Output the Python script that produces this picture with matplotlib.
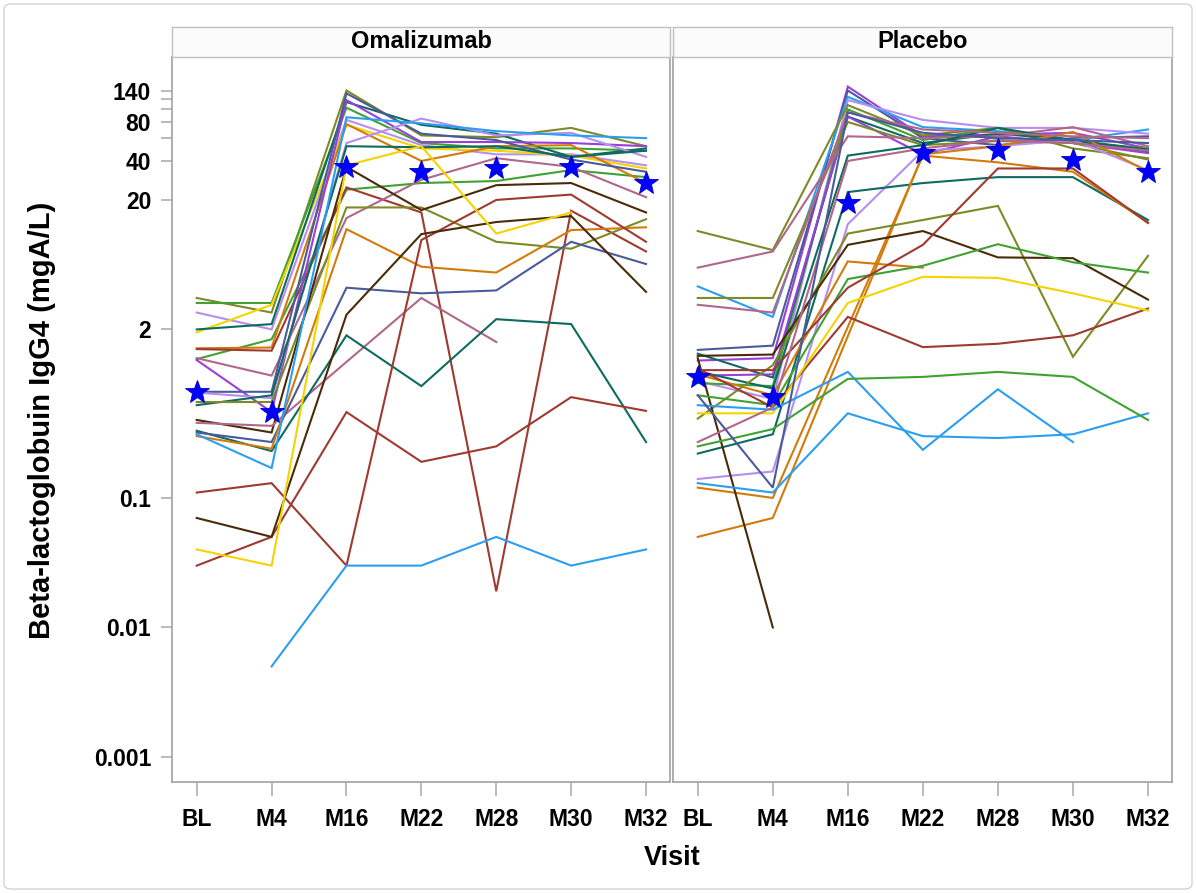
import matplotlib
matplotlib.use("Agg")
import matplotlib.pyplot as plt
from matplotlib.patches import FancyBboxPatch
import numpy as np

plt.rcParams['font.family'] = ['Liberation Sans', 'DejaVu Sans']
plt.rcParams['font.weight'] = 'bold'

visits = ["BL", "M4", "M16", "M22", "M28", "M30", "M32"]
panels = ["Omalizumab", "Placebo"]
y_label = "Beta-lactoglobuin IgG4 (mgA/L)"
x_label = "Visit"
y_ticks = [0.001, 0.01, 0.1, 2, 20, 40, 60, 80, 100, 120, 140]
y_tick_labels = ["0.001", "0.01", "0.1", "2", "20", "40", "", "80", "", "", "140"]

OLIVE = '#7d8a26'; GREEN = '#3fa232'; TEAL = '#0d6b5f'; LAV = '#b78ef0'
PURPLE = '#9a3fd9'; YELLOW = '#f3d300'; ORANGE = '#d27b0b'; BRICK = '#9e3a2f'
MAUVE = '#b1678b'; NAVY = '#4a5b99'; SKY = '#2b9ef0'; DKBROWN = '#4a2b08'

N = None
# Omalizumab subjects: values at BL, M4, M16, M22, M28, M30, M32
oma_colors = [OLIVE, GREEN, LAV, YELLOW, TEAL, GREEN, ORANGE, BRICK, MAUVE, PURPLE,
              NAVY, LAV, TEAL, OLIVE, DKBROWN, MAUVE, TEAL, NAVY, ORANGE, SKY,
              BRICK, BRICK, DKBROWN, YELLOW, SKY]
oma_values = [
    [3.5, 2.7, 140, 63, 61, 72, 52],
    [3.2, 3.2, 103, 55, 50, 50, 48],
    [2.7, 2.0, 83, 53, 45, 45, 37],
    [1.9, 3.1, 76, 50, 48, 44, 35],
    [2.0, 2.2, 114, 76, 65, 43, 50],
    [1.18, 1.68, 24, 27, 28, 34, 30],
    [1.43, 1.45, 77, 40, 52, 53, 27],
    [1.41, 1.37, 25, 16, 0.019, 16.5, 8.0],
    [1.2, 0.88, 14.5, 28.6, 42, 36, 21],
    [1.16, 0.46, 118, 56, 56, 55, 52],
    [0.66, 0.66, 133, 65, 58, 41, 33],
    [0.65, 0.59, 55, 85, 63, 66, 43],
    [0.52, 0.62, 52, 51, 52, 43, 48],
    [0.55, 0.55, 17.5, 17.5, 9.5, 8.4, 14.2],
    [0.40, 0.32, 36, 16.7, 26, 27, 16],
    [0.38, 0.36, N, 3.5, 1.6, N, N],
    [0.33, 0.23, 1.8, 0.73, 2.4, 2.2, 0.27],
    [0.32, 0.27, 4.2, 3.8, 4.0, 9.5, 6.4],
    [0.30, 0.24, 11.9, 6.1, 5.5, 11.7, 12.3],
    [0.31, 0.17, 87, 78, 68, 63, 60],
    [0.11, 0.13, 0.03, 9.8, 20, 22, 9.5],
    [0.03, 0.05, 0.46, 0.19, 0.25, 0.6, 0.47],
    [0.07, 0.05, 2.6, 10.9, 13.5, 15, 3.9],
    [0.04, 0.03, 37, 52, 11, 16, N],
    [N, 0.005, 0.03, 0.03, 0.05, 0.03, 0.04],
]
oma_stars = [0.66, 0.46, 36, 33, 35, 36, 27]

# Placebo subjects
pla_colors = [PURPLE, NAVY, SKY, LAV, OLIVE, GREEN, TEAL, PURPLE, OLIVE, MAUVE,
              TEAL, LAV, TEAL, ORANGE, ORANGE, ORANGE, OLIVE, DKBROWN, DKBROWN, GREEN,
              BRICK, BRICK, YELLOW, SKY, SKY, GREEN, MAUVE, MAUVE, NAVY]
pla_values = [
    [1.15, 1.2, 150, 62, 64, 66, 50],
    [1.39, 1.5, 140, 60, 53, 60, 62],
    [4.3, 2.5, 125, 73, 68, 58, 70],
    [0.8, 0.58, 118, 83, 72, 72, 65],
    [11.5, 8.2, 108, 63, 72, 50, 42],
    [0.77, 0.73, 100, 58, 72, 56, 50],
    [1.3, 0.85, 88, 55, 65, 58, 47],
    [0.88, 0.9, 88, 45, 62, 55, 46],
    [3.5, 3.5, 80, 53, 57, 55, 41],
    [6.0, 8.0, 62, 60, 62, 73, 52],
    [0.95, 0.7, 44, 53, 72, 58, 49],
    [0.14, 0.16, 13, 48, 52, 58, 34],
    [0.22, 0.31, 23, 27, 30, 30, 14],
    [0.05, 0.07, N, 45, 52, 67, 33],
    [0.12, 0.10, N, 44, 39, 33, 13.3],
    [0.9, 0.62, 6.7, 6.0, N, N, N],
    [0.41, 1.06, 11, 14, 18, 1.23, 7.4],
    [1.25, 1.28, 9.0, 11.5, 7.2, 7.1, 3.4],
    [1.2, 0.01, N, N, N, N, N],
    [0.62, 0.52, 4.9, 6.2, 9.1, 6.6, 5.5],
    [0.97, 0.97, 4.2, 9.0, 35, 35, 13.3],
    [1.0, 0.5, 2.5, 1.46, 1.55, 1.8, 2.9],
    [0.45, 0.45, 3.2, 5.1, 5.0, 3.8, 2.8],
    [0.52, 0.48, 0.94, 0.235, 0.69, 0.27, N],
    [0.13, 0.11, 0.45, 0.30, 0.29, 0.31, 0.45],
    [0.25, 0.34, 0.83, 0.86, 0.94, 0.86, 0.40],
    [3.1, 2.7, 95, 70, 66, 62, 60],
    [0.27, 0.5, 40, 50, 58, 55, 48],
    [0.62, 0.12, 95, 66, 60, 58, 55],
]
pla_stars = [0.86, 0.6, 19, 46, 49, 41, 33]

W, H = 1196, 893
fig = plt.figure(figsize=(W / 100, H / 100), dpi=100)
fig.patches.append(FancyBboxPatch((4 / W, 4 / H), 1 - 8 / W, 1 - 8 / H,
                                  boxstyle="round,pad=0,rounding_size=0.006",
                                  transform=fig.transFigure, fill=False,
                                  edgecolor='#d4d4d4', lw=1.0))

GRAY = '#a8a8a8'
bottom, top = 782, 57
panel_x = [(172, 670), (673, 1172)]
x = np.arange(len(visits))

for i, (name, vals, cols, stars) in enumerate(zip(panels,
                                                   [oma_values, pla_values],
                                                   [oma_colors, pla_colors],
                                                   [oma_stars, pla_stars])):
    x0, x1 = panel_x[i]
    ax = fig.add_axes([x0 / W, 1 - bottom / H, (x1 - x0) / W, (bottom - top) / H])
    ax.set_yscale('log')
    ax.set_xlim(-0.33, 6.32)
    ax.set_ylim(6.4e-4, 254)
    for v, c in zip(vals, cols):
        xs = [xi for xi, vi in zip(x, v) if vi is not None]
        ys = [vi for vi in v if vi is not None]
        ax.plot(xs, ys, color=c, lw=1.5, solid_joinstyle='miter')
    ax.plot(x, stars, linestyle='none', marker='*', ms=18, color='#0000ff',
            markeredgecolor='#0000c8', markeredgewidth=0.6, zorder=5, clip_on=False)
    ax.set_xticks(x)
    ax.set_xticklabels(visits, fontsize=16.5, fontweight='bold')
    ax.tick_params(axis='x', direction='out', length=10, width=1.1, color=GRAY, pad=9)
    ax.minorticks_off()
    if i == 0:
        ax.set_yticks(y_ticks)
        ax.set_yticklabels(y_tick_labels, fontsize=16.5, fontweight='bold')
        ax.tick_params(axis='y', direction='out', length=8, width=1.1, color=GRAY, pad=7)
    else:
        ax.set_yticks([])
    for s in ax.spines.values():
        s.set_color(GRAY)
        s.set_linewidth(1.3)
    # header strip
    hx = fig.add_axes([x0 / W, 1 - top / H, (x1 - x0) / W, 30 / H])
    hx.set_facecolor('#fbfbfb')
    hx.set_xticks([]); hx.set_yticks([])
    for s in hx.spines.values():
        s.set_color('#c0c0c0')
        s.set_linewidth(1.0)
    hx.text(0.5, 0.5, name, ha='center', va='center', fontsize=17,
            fontweight='bold', transform=hx.transAxes)

fig.text(42 / W, 1 - 420 / H, y_label, rotation=90, ha='center', va='center',
         fontsize=21, fontweight='bold')
fig.text(672 / W, 1 - 858 / H, x_label, ha='center', va='center',
         fontsize=19.5, fontweight='bold')

fig.savefig("out.png", dpi=100)
